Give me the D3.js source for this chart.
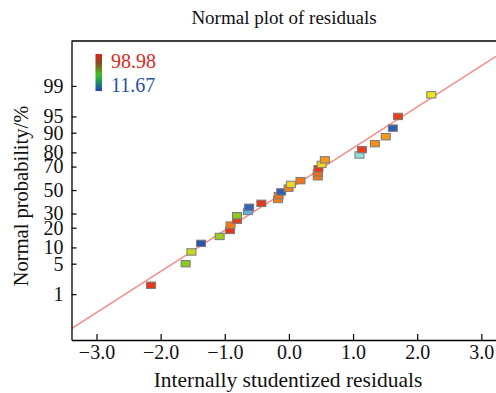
<!DOCTYPE html>
<html>
<head>
<meta charset="utf-8">
<script src="https://cdn.jsdelivr.net/npm/d3@7"></script>
<style>
  html, body { margin: 0; padding: 0; background: #fff; }
  svg { display: block; font-family: "Liberation Serif", "Times New Roman", serif; }
</style>
</head>
<body>
<svg id="chart" width="496" height="393"></svg>
<script>
// ---- data ----
const residuals = [-2.15, -1.61, -1.52, -1.37, -1.08, -0.92, -0.91, -0.81, -0.81, -0.64,
                   -0.62, -0.43, -0.17, -0.16, -0.12, -0.005, 0.03, 0.18, 0.45, 0.45,
                   0.46, 0.51, 0.56, 1.10, 1.14, 1.34, 1.51, 1.62, 1.70, 2.22];
const probabilities = [1.67, 5.0, 8.33, 11.67, 15.0, 18.33, 21.67, 25.0, 28.33, 31.67,
                       35.0, 38.33, 41.67, 45.0, 48.33, 51.67, 55.0, 58.33, 61.67, 65.0,
                       68.33, 71.67, 75.0, 78.33, 81.67, 85.0, 88.33, 91.67, 95.0, 98.33];
const responses = [95, 50, 58, 12, 52, 96, 85, 94, 50, 25,
                   14, 95, 84, 86, 13, 84, 70, 86, 85, 87,
                   95, 70, 80, 35, 93, 82, 80, 13, 93, 68];
const yTickLabels = [1, 5, 10, 20, 30, 50, 70, 80, 90, 95, 99];
const xTickValues = [-3, -2, -1, 0, 1, 2, 3];
const legendRange = [11.67, 98.98];
// reference line in normal-score units: z = slope * residual + intercept
const lineSlope = 0.919;
const lineIntercept = 0.02;

// ---- helpers ----
function normInv(p) { // Acklam's inverse normal CDF
  const a = [-3.969683028665376e+01, 2.209460984245205e+02, -2.759285104469687e+02, 1.383577518672690e+02, -3.066479806614716e+01, 2.506628277459239e+00];
  const b = [-5.447609879822406e+01, 1.615858368580409e+02, -1.556989798598866e+02, 6.680131188771972e+01, -1.328068155288572e+01];
  const c = [-7.784894002430293e-03, -3.223964580411365e-01, -2.400758277161838e+00, -2.549732539343734e+00, 4.374664141464968e+00, 2.938163982698783e+00];
  const d = [7.784695709041462e-03, 3.224671290700398e-01, 2.445134137142996e+00, 3.754408661907416e+00];
  const pl = 0.02425, ph = 1 - pl;
  let q, r;
  if (p < pl) { q = Math.sqrt(-2 * Math.log(p));
    return (((((c[0]*q+c[1])*q+c[2])*q+c[3])*q+c[4])*q+c[5]) / ((((d[0]*q+d[1])*q+d[2])*q+d[3])*q+1); }
  if (p <= ph) { q = p - 0.5; r = q*q;
    return (((((a[0]*r+a[1])*r+a[2])*r+a[3])*r+a[4])*r+a[5])*q / (((((b[0]*r+b[1])*r+b[2])*r+b[3])*r+b[4])*r+1); }
  q = Math.sqrt(-2 * Math.log(1 - p));
  return -(((((c[0]*q+c[1])*q+c[2])*q+c[3])*q+c[4])*q+c[5]) / ((((d[0]*q+d[1])*q+d[2])*q+d[3])*q+1);
}

// ---- layout ----
const svg = d3.select("#chart");
const L = 71.5, R = 498, T = 41, B = 340;

const x = d3.scaleLinear().domain([-3.39, 3.26]).range([L, R]);
const yz = d3.scaleLinear().domain([-3.35, 3.33]).range([B, T]);
const yp = p => yz(normInv(p / 100));

const color = d3.scaleLinear()
  .domain([11.67, 25, 35, 50, 58, 68, 80, 86, 93, 98.98])
  .range(["#2c52aa", "#5ab2e8", "#8ee4da", "#8cc81e", "#c6dc18", "#ece41c", "#f8981a", "#f47414", "#e6401c", "#e0281c"]);

// reference line, clipped to the plot
svg.append("clipPath").attr("id", "plotclip")
  .append("rect").attr("x", L).attr("y", T).attr("width", R - L).attr("height", B - T);
const xd = x.domain();
svg.append("line")
  .attr("clip-path", "url(#plotclip)")
  .attr("x1", x(xd[0])).attr("y1", yz(lineSlope * xd[0] + lineIntercept))
  .attr("x2", x(xd[1])).attr("y2", yz(lineSlope * xd[1] + lineIntercept))
  .attr("stroke", "#f48c8c").attr("stroke-width", 1.6);

// points
const pts = residuals.map((r, i) => ({ r, p: probabilities[i], v: responses[i] }));
svg.append("g").selectAll("rect").data(pts).join("rect")
  .attr("x", d => x(d.r) - 4.5)
  .attr("y", d => yp(d.p) - 3.2)
  .attr("width", 9).attr("height", 6.4)
  .attr("fill", d => color(d.v))
  .attr("stroke", "#7a7a7a").attr("stroke-width", 1);

// axes
const xAxis = d3.axisBottom(x).tickValues(xTickValues)
  .tickFormat(d => d3.format(".1f")(d).replace("-", "\u2212"))
  .tickSizeInner(-6).tickSizeOuter(0).tickPadding(5);
const gx = svg.append("g").attr("transform", `translate(0,${B})`).call(xAxis);

const yAxis = d3.axisLeft(yz).tickValues(yTickLabels.map(p => normInv(p / 100)))
  .tickFormat((d, i) => yTickLabels[i])
  .tickSizeInner(-5).tickSizeOuter(0).tickPadding(8);
const gy = svg.append("g").attr("transform", `translate(${L},0)`).call(yAxis);

[gx, gy].forEach(g => {
  g.select(".domain").attr("stroke", "#000").attr("stroke-width", 1.3);
  g.selectAll(".tick line").attr("stroke", "#000").attr("stroke-width", 1.2);
  g.selectAll(".tick text").attr("fill", "#111").style("font-size", "20px")
    .style("font-family", "'Liberation Serif', 'Times New Roman', serif");
});

// top border
svg.append("line").attr("x1", L).attr("x2", R).attr("y1", T).attr("y2", T)
  .attr("stroke", "#000").attr("stroke-width", 1.3);

// titles
svg.append("text").attr("x", 284).attr("y", 24).attr("text-anchor", "middle")
  .style("font-size", "19px").attr("fill", "#111").text("Normal plot of residuals");
svg.append("text").attr("x", 288).attr("y", 387).attr("text-anchor", "middle")
  .style("font-size", "21.5px").attr("fill", "#111").text("Internally studentized residuals");
svg.append("text").attr("transform", "translate(28,196) rotate(-90)").attr("text-anchor", "middle")
  .style("font-size", "20.5px").attr("fill", "#111").text("Normal probability/%");

// legend
const grad = svg.append("defs").append("linearGradient").attr("id", "lg")
  .attr("x1", 0).attr("y1", 0).attr("x2", 0).attr("y2", 1);
[["0%", "#d8281c"], ["25%", "#8a4a20"], ["55%", "#40c020"], ["78%", "#208a70"], ["100%", "#2040b0"]]
  .forEach(([o, c]) => grad.append("stop").attr("offset", o).attr("stop-color", c));
svg.append("rect").attr("x", 95.5).attr("y", 54).attr("width", 6.5).attr("height", 37)
  .attr("fill", "url(#lg)");
svg.append("text").attr("x", 111).attr("y", 68).style("font-size", "20px")
  .attr("fill", "#e0281e").text(legendRange[1].toFixed(2));
svg.append("text").attr("x", 111).attr("y", 91.5).style("font-size", "20px")
  .attr("fill", "#2a50a8").text(legendRange[0].toFixed(2));
</script>
</body>
</html>
